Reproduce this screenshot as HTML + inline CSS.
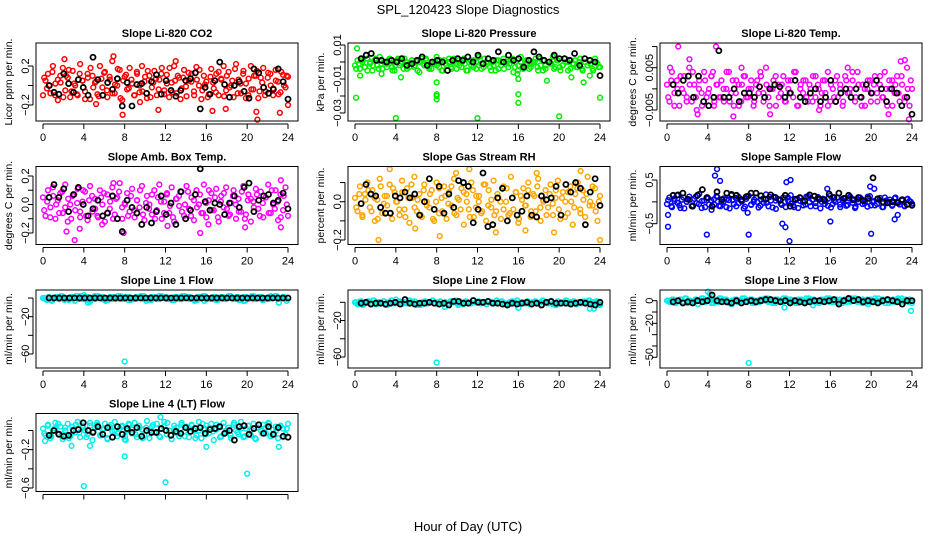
<!DOCTYPE html>
<html><head><meta charset="utf-8"><style>
body{margin:0;background:#fff}
svg{display:block;font-family:"Liberation Sans",sans-serif}
</style></head><body>
<svg id="c" width="936" height="540" viewBox="0 0 936 540">
<text x="468" y="14" text-anchor="middle" font-size="13">SPL_120423  Slope Diagnostics</text>
<text x="468" y="531" text-anchor="middle" font-size="13">Hour of Day (UTC)</text>
</svg>
<script>
const xTicks=[0,4,8,12,16,20,24];
const co2Vals=[-0.1,0.05,0.12,-0.08,0.2,0.02,-0.15,0.1,0.18,-0.05,0.08,-0.12,0.15,0.0,-0.1,0.22,0.05,-0.06,0.12,-0.14,0.1,0.03,-0.09,0.2,-0.02,0.14,-0.12,0.06,0.25,-0.08,0.0,0.16,-0.15,0.09,-0.04,0.18,0.02,-0.1,0.12,-0.07,0.2,0.04,-0.13,0.1,-0.02,0.15,-0.1,0.06,0.18,-0.05,0.11,-0.12,0.03,0.2,-0.08,0.08,-0.03,0.16,-0.11,0.05,0.12,-0.06,0.19,0.0,-0.14,0.1,0.04,-0.09,0.17,-0.03,0.12,-0.1,0.07,0.2,-0.05,0.14,0.0,-0.12,0.22,0.06,-0.08,0.15,0.02,-0.1,0.2,-0.04,0.1,-0.13,0.08,0.18,-0.06,0.13,0.0,-0.1,0.16,0.04,-0.07,0.11,-0.02,0.09];
const co2Vals2=[0.08,-0.03,0.0,0.14,-0.1,0.06,0.03,-0.12,0.1,0.16,-0.06,0.02,-0.09,0.12,0.05,-0.14,0.08,0.18,-0.02,0.04,-0.11,0.07,0.13,-0.05,0.09,-0.08,0.01,0.17,-0.13,0.05,0.11,-0.03,0.06,-0.1,0.14,0.0,-0.06,0.09,0.15,-0.12,0.03,0.07,-0.04,0.12,-0.09,0.02,0.18,-0.07,0.05,0.1,-0.14,0.08,-0.01,0.13,0.04,-0.1,0.06,0.16,-0.05,0.01,-0.12,0.09,0.03,-0.07,0.14,0.06,-0.11,0.1,-0.02,0.05,0.17,-0.08,0.02,0.12,-0.13,0.07,-0.04,0.1,0.15,-0.06,0.03,-0.1,0.08,0.12,-0.03,0.05,-0.09,0.14,0.0,0.1];
const co2OutX=[5.2,7.8,6.9,11.3,16.6,21,23.2,24,17.9,20.9,9.5,2.1,13.0];
const co2OutY=[-0.19,-0.3,0.3,-0.25,-0.26,-0.35,-0.28,-0.2,-0.24,-0.27,-0.17,0.27,0.25];
const co2Blk=[0,-0.07,-0.09,0.12,0.02,-0.07,0.06,-0.02,-0.1,0.29,0.06,-0.1,0.03,-0.04,0.07,-0.21,0.03,-0.21,0.01,0.02,-0.08,0.04,0.11,-0.09,0.05,-0.05,-0.11,-0.05,0.05,0.07,0.13,-0.24,-0.02,-0.09,0.05,0.24,0.01,-0.12,0,0.04,-0.06,-0.13,0.17,0.13,-0.02,-0.08,-0.04,0.17,0.04,-0.14];
const presVals=[-0.002,0.001,-0.004,0,-0.003,0.002,-0.001,-0.005,0.001,-0.002,0.003,-0.004,0,-0.001,0.002,-0.003,-0.005,0.001,-0.002,0,0.002,-0.004,-0.001,0.001,-0.003,0,-0.006,0.002,-0.002,0.001,-0.004,0,-0.001,0.003,-0.003,-0.005,0.001,-0.002,0.002,-0.004,0,-0.001,0.001,-0.003,0.002,-0.005,0,-0.002,0.001,-0.004,0.003,-0.001,-0.003,0,0.002,-0.005,-0.002,0.001,-0.004,0,0.002,-0.001,-0.003,0.001,-0.006,0,-0.002,0.003,-0.004,-0.001,0.001,-0.003,0,0.002,-0.005,-0.002,0.001,-0.004,0,-0.001,0.003,-0.003,0.001,-0.005,-0.002,0.002,0,-0.004,-0.001,0.001,-0.003,0.002,-0.005,0,-0.002,0.001,-0.004,0.002,-0.001,-0.003];
const presVals2=[-0.004,-0.001,0.001,-0.003,-0.005,0,-0.002,0.002,-0.004,-0.001,0,-0.003,0.001,-0.005,-0.002,0.002,-0.001,-0.004,0,-0.003,0.001,-0.002,-0.005,0,-0.001,0.002,-0.003,-0.004,0,-0.002,0.001,-0.005,-0.001,0,-0.003,0.002,-0.004,-0.002,0,-0.001,-0.005,0.001,-0.003,0,-0.002,-0.004,0.002,-0.001,-0.003,0,-0.005,0.001,-0.002,-0.004,0,-0.001,0.002,-0.003,-0.005,0,-0.002,0.001,-0.004,-0.001,0,-0.003,0.002,-0.005,-0.002,0,-0.001,-0.004,0.001,-0.003,-0.002,0,-0.005,0.001,-0.001,-0.003,0,-0.004,0.002,-0.002,-0.001,-0.005,0,-0.003];
const presOutX=[0.2,0.1,0.5,4,4.5,8,8,8,8,12,16,16,16,18.8,20,21.2,22.4,24,23,15.9,2.6];
const presOutY=[0.008,-0.021,-0.008,-0.033,-0.009,-0.019,-0.02,-0.012,-0.022,-0.033,-0.019,-0.024,-0.01,-0.011,-0.032,-0.009,-0.012,-0.021,-0.008,-0.007,-0.007];
const presBlk=[0.002,0.004,0.005,0.001,0.001,0,0.001,0,0.002,-0.002,-0.001,0.001,0.003,-0.002,0,0.001,0,-0.005,0.001,0.002,0.001,0.003,0,0.004,-0.001,0.002,0.001,0.006,0,0.004,0.001,0.002,-0.003,0.001,0.006,0.003,0.001,0,0.004,0.002,0.002,0.001,0.005,-0.002,0.002,0.001,0,-0.008];
const ltVals=[0.001,-0.003,0.004,-0.001,0.002,-0.004,0,0.003,-0.002,0.005,-0.003,0.001,-0.005,0.002,-0.001,0.004,-0.002,0,0.003,-0.004,0.001,-0.002,0.002,-0.003,0,0.004,-0.001,-0.004,0.002,0.001,-0.003,0.003,-0.002,0,0.002,-0.004,0.001,-0.001,0.003,-0.003,0.005,-0.002,0,0.002,-0.004,0.001,-0.001,0.003,-0.003,0,0.002,-0.002,0.004,-0.004,0.001,-0.001,0.002,-0.003,0,0.003,-0.002,0.001,-0.004,0.002,-0.001,0.004,-0.003,0,0.002,-0.002,0.001,-0.004,0.003,-0.001,0,0.002,-0.003,0.004,-0.002,0.001,-0.004,0,0.002,-0.001,0.003,-0.003,0.001,-0.002,0.004,-0.004,0,0.002,-0.001,0.003,-0.003,0.001,-0.002,0.005,-0.004,0];
const ltVals2=[-0.002,0.002,-0.004,0.0,0.003,-0.001,-0.003,0.001,0.004,-0.002,0.0,-0.004,0.002,-0.001,0.003,-0.003,0.001,-0.002,0.0,0.004,-0.003,0.002,-0.001,-0.004,0.001,0.003,-0.002,0.0,-0.003,0.002,0.004,-0.001,0.001,-0.004,0.0,0.003,-0.002,0.001,-0.003,0.002,-0.001,0.004,-0.004,0.0,0.002,-0.002,0.001,-0.003,0.003,0.0,-0.001,0.002,-0.004,0.001,-0.002,0.003,0.0,-0.003,0.002,-0.001,0.004,-0.002,0.001,-0.004,0.0,0.002,-0.003,0.001,-0.001,0.003,-0.002,0.0,0.002,-0.004,0.001,-0.001,0.003,-0.003,0.0,0.002];
const ltOutX=[1.1,4.8,2.2,6.5,10.1,23.7,22.9,23.3,4.5,0.3,3.0,7.3,17.7,21.7,14.9];
const ltOutY=[0.01,0.01,0.007,-0.0065,-0.006,-0.0072,0.0065,0.0068,0.004,0.005,-0.006,0.005,0.005,-0.006,-0.005];
const ltBlk=[0.001,-0.001,0.002,0.003,-0.002,0.003,-0.003,-0.004,-0.002,0.009,-0.002,-0.002,0,-0.003,-0.001,-0.001,-0.002,0.0005,-0.002,0,0.001,0.0005,-0.002,-0.001,0.002,-0.002,-0.003,-0.001,0,-0.003,-0.002,0.002,-0.003,-0.001,0,-0.002,0,-0.002,0.001,-0.001,0.002,0,-0.003,0,-0.001,-0.004,-0.002,-0.006];
const ambVals=[0.05,-0.08,0.1,-0.02,0.12,-0.1,0.03,0.08,-0.06,0.14,-0.12,0.0,0.06,-0.04,0.11,-0.09,0.02,0.09,-0.11,0.13,-0.05,0.04,-0.08,0.1,0.0,-0.12,0.07,-0.03,0.12,-0.07,0.05,0.15,-0.1,0.01,0.08,-0.05,0.11,-0.09,0.03,-0.02,0.13,-0.11,0.06,0.0,-0.07,0.1,-0.04,0.14,-0.1,0.02,0.07,-0.06,0.12,-0.12,0.04,-0.01,0.09,-0.08,0.13,-0.03,0.05,-0.11,0.1,0.0,-0.06,0.14,-0.09,0.03,0.08,-0.04,0.11,-0.12,0.06,-0.02,0.12,-0.08,0.01,0.1,-0.1,0.04,-0.05,0.13,-0.07,0.07,-0.12,0.02,0.11,-0.03,0.09,-0.09,0.05,0.14,-0.06,0.0,0.1,-0.11,0.07,-0.04,0.12,-0.08];
const ambVals2=[-0.04,0.02,-0.09,0.06,0.0,-0.06,0.09,-0.02,0.04,-0.1,0.07,0.01,-0.05,0.1,-0.08,0.03,0.06,-0.03,-0.09,0.05,0.08,-0.06,0.02,-0.1,0.04,0.09,-0.02,0.0,-0.08,0.06,-0.04,0.03,0.1,-0.07,0.01,-0.03,0.07,-0.1,0.05,0.02,-0.06,0.08,-0.01,-0.09,0.04,0.06,-0.05,0.0,0.09,-0.08,0.03,-0.02,0.07,-0.06,0.01,0.1,-0.04,0.05,-0.09,0.02,0.08,-0.03,-0.07,0.06,0.0,-0.05,0.09,-0.1,0.03,0.04,-0.02,0.07,-0.08,0.01,0.05,-0.06,0.1,-0.03,0.02,-0.09,0.06,0.0];
const ambOutX=[2.3,3.1,3.6,7.9,15.4,19.8,23.3,6.9,23.3,5.8,12.2,16.2];
const ambOutY=[-0.19,-0.25,-0.17,-0.2,-0.2,-0.16,-0.16,0.15,0.17,-0.14,-0.15,-0.14];
const ambBlk=[0.05,0.14,0.05,0.11,-0.05,0.07,0.12,0,-0.08,-0.03,0.03,-0.08,-0.06,0.06,-0.1,-0.19,0.03,-0.02,-0.06,-0.14,-0.02,-0.13,-0.05,0.06,-0.07,0.01,-0.14,0.09,-0.1,-0.04,0.07,0.25,0.02,-0.04,0.01,0,-0.07,0.01,0.06,-0.02,0.12,0.15,-0.05,0.03,0.06,0.07,0.01,0.03,0.08,-0.03];
const rhVals=[0.02,-0.05,0.08,-0.08,0.04,0.1,-0.03,0.06,-0.1,0.01,0.12,-0.06,0.03,-0.02,0.09,-0.09,0.05,0.0,-0.07,0.11,-0.04,0.07,-0.11,0.02,0.13,-0.05,0.04,-0.08,0.09,0.0,-0.03,0.06,-0.1,0.1,-0.06,0.02,0.08,-0.09,0.05,-0.02,0.12,-0.07,0.01,0.07,-0.12,0.04,-0.04,0.1,-0.08,0.03,0.0,-0.06,0.09,-0.1,0.06,-0.03,0.11,-0.05,0.02,-0.09,0.08,0.0,-0.07,0.13,-0.04,0.05,-0.11,0.03,0.07,-0.02,0.1,-0.08,0.04,-0.05,0.12,-0.1,0.01,0.06,-0.03,0.09,-0.07,0.02,0.11,-0.09,0.05,0.0,-0.06,0.08,-0.12,0.04,0.1,-0.04,0.06,-0.08,0.13,0.0,-0.02,0.07,-0.1,0.03];
const rhVals2=[-0.03,0.04,-0.07,0.01,0.06,-0.05,0.02,-0.09,0.08,-0.01,0.03,-0.06,0.07,0.0,-0.04,0.05,-0.08,0.02,0.09,-0.03,0.01,-0.07,0.06,-0.02,0.04,-0.09,0.0,0.07,-0.05,0.03,-0.01,0.08,-0.06,0.02,-0.04,0.05,0.0,-0.08,0.06,-0.03,0.03,-0.05,0.09,-0.02,0.01,-0.07,0.04,0.0,-0.04,0.07,-0.06,0.02,0.05,-0.09,0.01,-0.02,0.06,-0.05,0.03,0.08,-0.03,0.0,-0.07,0.04,-0.01,0.06,-0.04,0.02,-0.08,0.05,0.0,-0.03,0.07,-0.06,0.01,0.04,-0.02,0.08,-0.05,0.0];
const rhOutX=[2.3,8.3,24,11.2,3.4,13.8,19.5,5.9,9.9,16.7,17.8,22.1];
const rhOutY=[-0.2,-0.18,-0.2,0.17,0.17,-0.16,-0.16,-0.14,0.15,-0.15,0.15,0.16];
const rhBlk=[-0.01,0.09,0.04,0.03,-0.03,-0.06,-0.06,0.03,0.02,0.05,0.02,0.04,-0.07,0.0,0.12,-0.04,0.08,-0.06,0.04,-0.03,0.11,0.1,0.08,-0.11,-0.04,0.15,-0.13,-0.12,0.02,0.07,-0.1,0.02,-0.07,-0.05,0.03,-0.07,-0.08,0.03,0.01,0.02,0.08,-0.07,0.09,0.05,0.1,0.07,-0.12,0.05,0.12,-0.02];
const sfVals=[-0.05,0.1,-0.12,0.02,0.15,-0.08,0.05,-0.15,0.0,0.12,-0.1,0.07,-0.03,0.18,-0.14,0.03,0.1,-0.06,-0.18,0.06,0.13,-0.09,0.0,0.08,-0.12,0.04,0.15,-0.05,-0.1,0.11,0.02,-0.15,0.07,0.14,-0.07,0.0,0.1,-0.13,0.05,-0.02,0.17,-0.1,0.03,0.12,-0.16,0.06,-0.04,0.1,-0.12,0.02,0.15,-0.08,0.04,-0.14,0.09,0.0,-0.06,0.13,-0.1,0.05,-0.03,0.11,-0.15,0.07,0.02,-0.09,0.14,-0.05,0.0,0.1,-0.12,0.04,0.08,-0.07,0.12,-0.02,-0.14,0.06,0.1,-0.05,0.02,-0.11,0.13,0.0,-0.08,0.07,0.04,-0.12,0.1,-0.03,0.05,-0.09,0.08,0.0,-0.06,0.03,-0.1,0.06,0.02,-0.04];
const sfVals2=[0.04,-0.1,0.07,-0.02,-0.14,0.1,0.0,0.05,-0.08,0.12,-0.05,0.02,-0.12,0.08,0.03,-0.06,0.11,-0.1,0.0,0.06,-0.15,0.04,0.09,-0.03,0.01,-0.11,0.13,-0.06,0.05,0.0,-0.09,0.08,-0.02,0.11,-0.13,0.03,0.06,-0.07,0.0,0.1,-0.04,-0.12,0.07,0.02,-0.08,0.12,-0.01,0.05,-0.1,0.09,0.0,-0.05,0.07,-0.13,0.03,0.1,-0.06,0.01,-0.09,0.08,0.04,-0.11,0.0,0.06,-0.03,0.12,-0.08,0.02,-0.05,0.09,-0.12,0.03,0.0,-0.07,0.1,-0.02,0.05,-0.09,0.07,0.0];
const sfOutX=[0.1,0.1,3.9,8,12,20,4.7,4.9,5.2,11.7,12.1,11.3,11.6,16,22.6,22.3,7.9,15.7,19.9,20.3];
const sfOutY=[-0.3,-0.57,-0.75,-0.75,-0.9,-0.73,0.6,0.75,0.48,0.45,0.5,-0.5,-0.58,-0.45,-0.3,-0.4,-0.25,0.3,0.35,0.3];
const sfBlk=[0.15,0.16,0.2,0.06,-0.1,0.15,0.28,0.1,-0.1,0.23,0.05,0.2,0.17,0.15,0.05,0.12,0.2,0.2,0.14,0.06,0.16,0.1,0.04,0.15,-0.1,0.06,0.1,0.02,0.16,0.13,0.06,0.05,0.18,0.1,0.2,0.08,0.15,0.05,0.1,0.03,0.08,0.55,0.07,0.0,-0.02,0.0,-0.02,0.05,-0.06,-0.08];
const l1Vals=[0,-1,1,-2,0,1,-1,2,0,-1,-2,1,0,2,-1,0,1,-2,0,-1,2,0,1,-1,-2,0,1,-1,0,2,-1,0,1,-2,0,-1,1,0,2,-1,0,-2,1,0,-1,2,0,1,-1,0,-2,1,0,-1,2,0,1,-1,0,-2,1,0,2,-1,0,-1,1,-2,0,1,-1,0,2,0,-1,1,-2,0,1,-1,0,2,-1,0,1,-2,0,-1,1,0,2,-1,0,1,-1,0];
const l1OutX=[8,4.4,4.6,15.8,19.8,23.1,4,22.3];
const l1OutY=[-68,-5,-4,-3,-3,-5,3,2];
const l1Blk=[0,0,0,0,0,0,0,0,0,0,0,0,0,0,0,0,0,0,0,0,0,0,0,0,0,0,0,0,0,0,0,0,0,0,0,0,0,0,0,0,0,0,0,0,0,0,0,0];
const l2Vals=[0,-2,1,-3,0,1,-1,2,-2,0,-1,1,-3,0,2,-1,0,1,-2,0,-1,2,0,1,-3,-2,0,1,-1,0,2,-1,0,1,-2,0,-1,1,0,2,-3,0,-2,1,0,-1,2,0,1,-1,0,-2,1,0,-1,2,0,1,-1,-3,-2,1,0,2,-1,0,-1,1,-2,0,1,-1,0,2,0,-1,1,-2,-3,1,-1,0,2,-1,0,1,-2,0,-1,1,0,2,-1,0,1,-3];
const l2OutX=[8,23,23.4,16,8.8,4];
const l2OutY=[-66,-7,-7,-6,-5,3];
const l2Blk=[-1,0,-2,-1,-1,-2,-1,0,-2,3,-1,-2,-1,-1,0,-1,-2,-1,-3,1,1,-1,-1,2,0,0,1,-1,-1,-2,-3,-1,-2,-1,0,-2,-1,-3,0,1,-1,-1,-1,-2,-1,0,-1,-2,-3,0];
const l3Vals=[0,-1,1,-2,0,1,-1,2,-2,0,-1,1,-3,0,2,-1,0,1,-2,0,-1,2,0,1,-2,-3,0,1,-1,0,2,-1,0,1,-2,0,-1,1,0,2,-1,0,-2,1,0,-1,2,0,1,-1,0,-2,1,0,-1,2,0,1,-1,-2,0,1,0,2,-1,0,-1,1,-2,0,1,-1,0,2,0,-1,1,-2,-3,1,-1,0,2,-1,0,1,-2,0,-1,1,0,2,-1,0,1,-2];
const l3OutX=[8,11.5,23.9,4,4.2,14.3];
const l3OutY=[-55,-6,-9,8,6,-4];
const l3Blk=[-1,0,-2,-1,-2,0,-1,0,5,0,-1,-1,-2,0,-2,-1,0,-1,0,1,1,0,-1,0,-2,0,-1,-2,-1,0,0,-1,0,1,-3,0,2,0,1,-1,0,-1,-2,0,1,0,-1,-3,0,0];
const l4Vals=[0.02,-0.05,0.06,-0.08,0.0,0.08,-0.03,0.04,-0.09,0.03,0.07,-0.06,0.01,-0.02,0.09,-0.07,0.05,0.0,-0.04,0.08,-0.1,0.03,0.06,-0.05,0.01,0.07,-0.08,0.04,-0.01,0.09,-0.06,0.02,0.05,-0.09,0.0,0.06,-0.03,0.08,-0.07,0.03,0.01,-0.05,0.1,-0.08,0.04,-0.02,0.07,-0.06,0.02,0.09,-0.04,0.0,-0.09,0.05,0.03,-0.06,0.08,-0.01,0.04,-0.07,0.06,0.0,-0.05,0.09,-0.08,0.02,0.05,-0.03,0.07,-0.1,0.01,0.04,-0.06,0.08,-0.02,0.03,-0.08,0.06,0.0,-0.04,0.09,-0.07,0.02,0.05,-0.05,0.07,-0.09,0.03,0.0,0.06,-0.03,0.08,-0.06,0.01,0.04,-0.08,0.05,0.02,-0.04,0.07];
const l4Vals2=[-0.03,0.05,-0.06,0.02,0.07,-0.04,0.0,-0.08,0.04,0.06,-0.02,0.03,-0.07,0.05,-0.01,0.08,-0.05,0.02,-0.09,0.06,0.0,-0.03,0.04,-0.06,0.07,0.01,-0.04,0.05,-0.08,0.03,0.0,0.06,-0.02,-0.07,0.04,0.08,-0.05,0.01,-0.03,0.06,-0.06,0.02,0.05,-0.08,0.0,0.07,-0.04,0.03,-0.01,0.06,-0.07,0.04,0.0,-0.05,0.08,-0.02,0.02,-0.06,0.05,0.01,-0.08,0.06,-0.03,0.03,0.07,-0.05,0.0,0.04,-0.07,0.02];
const l4OutX=[4,8,12,20,16,23.1,2.8,4.6,0.2,11.5,8.1];
const l4OutY=[-0.58,-0.27,-0.54,-0.45,-0.17,-0.17,-0.16,-0.16,-0.11,0.14,-0.1];
const l4Blk=[-0.05,0.0,-0.04,-0.06,-0.05,0.0,0.01,0.08,0.0,-0.02,0.04,-0.04,0.03,-0.07,0.04,-0.04,0.02,-0.02,0.03,-0.06,0.0,-0.02,-0.02,0.02,0.0,-0.05,-0.01,-0.03,0.03,-0.01,0.02,0.03,-0.03,0.01,0.02,0.04,-0.03,0.0,-0.1,0.04,0.05,-0.04,0.02,0.06,-0.03,0.04,-0.04,0.03,-0.06,-0.07];

const panels=[
 {name:"co2",title:"Slope Li-820 CO2",ylab:"Licor ppm per min.",col:0,row:0,color:"#ff0000",vals:co2Vals,vals2:co2Vals2,ox:co2OutX,oy:co2OutY,blk:co2Blk,v0:0.2,p0:23,v1:-0.2,p1:62,ticks:[-0.2,0,0.2],labs:[[-0.2,"\u22120.2"],[0.2,"0.2"]]},
 {name:"pressure",title:"Slope Li-820 Pressure",ylab:"kPa per min.",col:1,row:0,color:"#00ee00",vals:presVals,vals2:presVals2,ox:presOutX,oy:presOutY,blk:presBlk,v0:0.01,p0:2,v1:-0.01,p1:36,ticks:[0.01,0,-0.01,-0.02,-0.03],labs:[[0.01,"0.01"],[-0.01,"\u22120.01"],[-0.03,"\u22120.03"]]},
 {name:"li820-temp",title:"Slope Li-820 Temp.",ylab:"degrees C per min.",col:2,row:0,color:"#ff00ff",vals:ltVals,vals2:ltVals2,ox:ltOutX,oy:ltOutY,blk:ltBlk,v0:0.005,p0:24.7,v1:-0.005,p1:67,ticks:[0.01,0.005,0,-0.005],labs:[[0.005,"0.005"],[-0.005,"\u22120.005"]]},
 {name:"amb-box-temp",title:"Slope Amb. Box Temp.",ylab:"degrees C per min.",col:0,row:1,color:"#ff00ff",vals:ambVals,vals2:ambVals2,ox:ambOutX,oy:ambOutY,blk:ambBlk,v0:0.2,p0:9.5,v1:-0.2,p1:66.5,ticks:[0.2,0.1,0,-0.1,-0.2],labs:[[0.2,"0.2"],[0,"0.0"],[-0.2,"\u22120.2"]]},
 {name:"gas-stream-rh",title:"Slope Gas Stream RH",ylab:"percent per min.",col:1,row:1,color:"#ffa500",vals:rhVals,vals2:rhVals2,ox:rhOutX,oy:rhOutY,blk:rhBlk,v0:0,p0:35.2,v1:-0.2,p1:73.5,ticks:[0.1,0,-0.1,-0.2],labs:[[0,"0.0"],[-0.2,"\u22120.2"]]},
 {name:"sample-flow",title:"Slope Sample Flow",ylab:"ml/min per min.",col:2,row:1,color:"#0000ff",vals:sfVals,vals2:sfVals2,ox:sfOutX,oy:sfOutY,blk:sfBlk,v0:0.5,p0:13.5,v1:-0.5,p1:57.2,ticks:[0.5,0,-0.5],labs:[[0.5,"0.5"],[-0.5,"\u22120.5"]]},
 {name:"line1-flow",title:"Slope Line 1 Flow",ylab:"ml/min per min.",col:0,row:2,color:"#00eeee",vals:l1Vals,vals2:l2Vals,ox:l1OutX,oy:l1OutY,blk:l1Blk,v0:0,p0:8,v1:-60,p1:64,ticks:[0,-20,-40,-60],labs:[[-20,"\u221220"],[-60,"\u221260"]]},
 {name:"line2-flow",title:"Slope Line 2 Flow",ylab:"ml/min per min.",col:1,row:2,color:"#00eeee",vals:l2Vals,vals2:l3Vals,ox:l2OutX,oy:l2OutY,blk:l2Blk,v0:0,p0:12.3,v1:-60,p1:67,ticks:[0,-20,-40,-60],labs:[[-20,"\u221220"],[-60,"\u221260"]]},
 {name:"line3-flow",title:"Slope Line 3 Flow",ylab:"ml/min per min.",col:2,row:2,color:"#00eeee",vals:l3Vals,vals2:l1Vals,ox:l3OutX,oy:l3OutY,blk:l3Blk,v0:0,p0:10.7,v1:-50,p1:67.3,ticks:[0,-10,-20,-30,-40,-50],labs:[[0,"0"],[-20,"\u221220"],[-50,"\u221250"]]},
 {name:"line4-flow",title:"Slope Line 4 (LT) Flow",ylab:"ml/min per min.",col:0,row:3,color:"#00eeee",vals:l4Vals,vals2:l4Vals2,ox:l4OutX,oy:l4OutY,blk:l4Blk,v0:0,p0:17,v1:-0.6,p1:74.5,ticks:[0,-0.2,-0.4,-0.6],labs:[[-0.2,"\u22120.2"],[-0.6,"\u22120.6"]],noXlab:true}
];
const NS="http://www.w3.org/2000/svg";
const svg=document.getElementById('c');
function mk(tag,attrs,parent){const e=document.createElementNS(NS,tag);for(const k in attrs)e.setAttribute(k,attrs[k]);parent.appendChild(e);return e;}
const rowTops=[43,166.5,290,413.5];
panels.forEach(p=>{
 const cx=p.col*312, top=rowTops[p.row], L=cx+36, R=cx+298, B=top+78;
 const xs=h=>cx+43+h*245/24;
 const ys=v=>top+p.p0+(v-p.v0)*(p.p1-p.p0)/(p.v1-p.v0);
 const g=mk('g',{},svg);
 
 
 const t=mk('text',{x:cx+167,y:top-6,'text-anchor':'middle','font-size':'11','font-weight':'bold'},g);
 t.textContent=p.title;
 
 
 const yl=mk('text',{x:0,y:0,'text-anchor':'middle','font-size':'10.5',transform:`translate(${cx+12},${top+39}) rotate(-90)`},g);
 yl.textContent=p.ylab;
 
 
 const pts=mk('g',{fill:'none',stroke:p.color,'stroke-width':'1.5'},g);
 
 
 [p.vals,p.vals2].forEach((arr,k)=>{
  const n=arr.length;
  arr.forEach((v,i)=>{
   const c=mk('circle',{cx:xs(k*0.12+i*(24-k*0.24)/(n-1)),cy:ys(v),r:2.4},pts);
   
   
  });
 });
 p.ox.forEach((h,i)=>{
  const c=mk('circle',{cx:xs(h),cy:ys(p.oy[i]),r:2.4},pts);
  
  
 });
 const bp=mk('g',{fill:'none',stroke:'#000','stroke-width':'1.8'},g);
 
 
 const m=p.blk.length;
 p.blk.forEach((v,i)=>{
  const c=mk('circle',{cx:xs(0.6+i*23.4/(m-1)),cy:ys(v),r:2.5},bp);
  
  
 });
 const box=mk('rect',{x:L,y:top,width:R-L,height:78,fill:'none',stroke:'#000','stroke-width':'1'},g);
 
 
 const ax=mk('g',{stroke:'#000','stroke-width':'1'},g);
 
 
 mk('line',{x1:xs(0),x2:xs(24),y1:B+3,y2:B+3},ax);
 xTicks.forEach(h=>{
  mk('line',{x1:xs(h),x2:xs(h),y1:B+3,y2:B+8},ax);
  if(!p.noXlab){
   const tl=mk('text',{x:xs(h),y:B+20,'text-anchor':'middle','font-size':'11',stroke:'none'},ax);
   tl.textContent=h;
   
   
  }
 });
 const ay=mk('g',{stroke:'#000','stroke-width':'1'},g);
 
 
 const tk=p.ticks.map(ys);
 mk('line',{x1:L-3,x2:L-3,y1:Math.min(...tk),y2:Math.max(...tk)},ay);
 tk.forEach(y=>mk('line',{x1:L-8,x2:L-3,y1:y,y2:y},ay));
 p.labs.forEach(([v,s])=>{
  const tl=mk('text',{x:0,y:0,'text-anchor':'middle','font-size':'11',stroke:'none',transform:`translate(${cx+29},${ys(v)}) rotate(-90)`},ay);
  tl.textContent=s;
  
  
 });
});
</script>
</body></html>
